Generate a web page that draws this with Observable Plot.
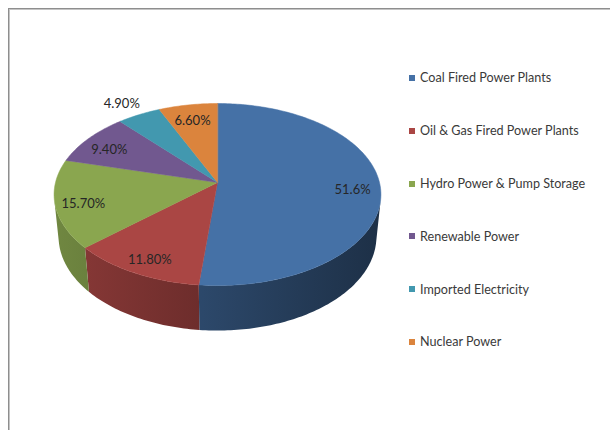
<!DOCTYPE html>
<html><head><meta charset="utf-8">
<script src="https://cdn.jsdelivr.net/npm/d3@7"></script>
<script src="https://cdn.jsdelivr.net/npm/@observablehq/plot@0.6"></script>
<style>
html,body{margin:0;padding:0;background:#fff;overflow:hidden}
#wrap{position:relative;width:610px;height:430px;overflow:hidden;font-family:Lato,"Open Sans",sans-serif;background:#fff}
#frame{position:absolute;left:8px;top:8px;width:800px;height:600px;border-left:1px solid #8e8e8e;border-top:1px solid #8e8e8e;box-shadow:inset 1px 1px 0 #c4c4c4}
#chart{position:absolute;left:0;top:0}
#legend{position:absolute;left:409px;top:51.6px}
.row{display:flex;align-items:center;height:52.8px;font-size:12.6px;color:#3a3a3a;white-space:nowrap}
.sw{width:6px;height:6px;margin-right:5px}
</style></head><body>
<div id="wrap"><div id="frame"></div><div id="chart"></div><div id="legend"></div></div>
<script>
// ---- data ----
const categories = ["Coal Fired Power Plants","Oil & Gas Fired Power Plants","Hydro Power & Pump Storage","Renewable Power","Imported Electricity","Nuclear Power"];
const shares = [51.6, 11.8, 15.7, 9.4, 4.9, 6.6];
const shareLabels = ["51.6%","11.80%","15.70%","9.40%","4.90%","6.60%"];
const palette = ["#4571a6","#aa4644","#8aa64f","#71588f","#4298af","#db843d"];

// ---- 3D perspective model ----
const sinE = 0.552, cosE = Math.sqrt(1 - sinE*sinE), Dist = 6.32, Thick = 0.32;
function proj(th, r, Y) {
  const X = r*Math.sin(th), Z = r*Math.cos(th);
  const depth = Dist - Y*sinE + Z*cosE;
  return [Dist*X/depth, Dist*(Y*cosE + Z*sinE)/depth];
}
const arcs = d3.pie().sort(null).value(d => d)(shares);
const step = Math.PI/180;
function angles(a0, a1) {
  const n = Math.max(1, Math.ceil((a1 - a0)/step));
  return d3.range(n + 1).map(j => a0 + (a1 - a0)*j/n);
}

// top faces
const tops = [];
arcs.forEach((a, i) => {
  tops.push({id: i, x: 0, y: 0, c: palette[i]});
  for (const t of angles(a.startAngle, a.endAngle)) {
    const [x, y] = proj(t, 1, 0);
    tops.push({id: i, x, y, c: palette[i]});
  }
});

// visible side walls (one polygon per slice, shaded with a horizontal gradient)
const cMin = -1/(Dist*cosE);
const vis0 = Math.acos(cMin), vis1 = 2*Math.PI - vis0;
const walls = [];
const wallIdx = [];
arcs.forEach((a, i) => {
  const s = Math.max(a.startAngle, vis0), e = Math.min(a.endAngle, vis1);
  if (e <= s) return;
  wallIdx.push(i);
  const ts = angles(s, e);
  const c = `url(#wallgrad-${i})`;
  for (const t of ts) { const [x, y] = proj(t, 1, 0); walls.push({id: i, x, y, c}); }
  for (const t of ts.slice().reverse()) { const [x, y] = proj(t, 1, -Thick); walls.push({id: i, x, y, c}); }
});

// labels
const labelData = arcs.map((a, i) => {
  const mid = (a.startAngle + a.endAngle)/2;
  const r = shares[i] < 5 ? 1.25 : 0.83;
  const [x, y] = proj(mid, r, 0);
  return {x, y, text: shareLabels[i]};
});

const chart = Plot.plot({
  width: 610, height: 430, margin: 0,
  x: {domain: [-217/162, 393/162], axis: null},
  y: {domain: [-248/162, 182/162], axis: null},
  style: {fontFamily: "Lato, 'Open Sans', sans-serif", fontSize: "13px", background: "transparent"},
  marks: [
    Plot.line(walls, {x: "x", y: "y", z: "id", fill: "c", stroke: "none", curve: "linear-closed"}),
    Plot.line(tops, {x: "x", y: "y", z: "id", fill: "c", stroke: "c", strokeWidth: 0.5, curve: "linear-closed"}),
    Plot.text(labelData, {x: "x", y: "y", text: "text", dy: 4, fill: "#262626", fontSize: 13})
  ]
});

// gradient definitions for the side walls
const NS = "http://www.w3.org/2000/svg";
const defs = document.createElementNS(NS, "defs");
for (const i of wallIdx) {
  const base = d3.rgb(palette[i]);
  const g = document.createElementNS(NS, "linearGradient");
  g.setAttribute("id", `wallgrad-${i}`);
  g.setAttribute("gradientUnits", "userSpaceOnUse");
  g.setAttribute("x1", 0); g.setAttribute("y1", 0); g.setAttribute("x2", 610); g.setAttribute("y2", 0);
  [[0, 0.88], [1, 0.148]].forEach(([o, f]) => {
    const st = document.createElementNS(NS, "stop");
    st.setAttribute("offset", o);
    st.setAttribute("stop-color", d3.rgb(base.r*f, base.g*f, base.b*f).formatHex());
    g.appendChild(st);
  });
  defs.appendChild(g);
}
chart.insertBefore(defs, chart.firstChild);
document.getElementById("chart").appendChild(chart);

const legend = document.getElementById("legend");
categories.forEach((c, i) => {
  const row = document.createElement("div");
  row.className = "row";
  const sw = document.createElement("span");
  sw.className = "sw"; sw.style.background = palette[i];
  const tx = document.createElement("span");
  tx.textContent = c;
  row.appendChild(sw); row.appendChild(tx);
  legend.appendChild(row);
});
</script>
</body></html>
